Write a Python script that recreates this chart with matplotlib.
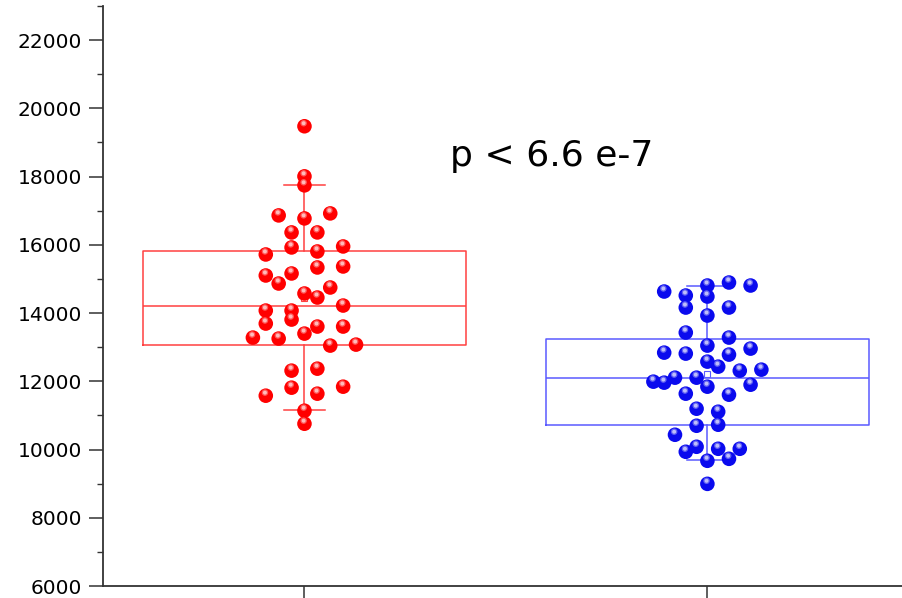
import matplotlib
matplotlib.use("Agg")
import matplotlib.pyplot as plt
from matplotlib.ticker import MultipleLocator
from matplotlib.transforms import offset_copy
import numpy as np

# point values, with the jitter column of each point
red_values = [19475, 18007, 17743, 16862, 16774, 16921, 16363, 16363, 15923, 15805,
              15952, 15717, 15336, 15365, 15101, 15160, 14866, 14749, 14573, 14455,
              14220, 14073, 14073, 13809, 13692, 13604, 13604, 13398, 13281, 13252,
              13046, 13075, 12312, 12370, 11813, 11637, 11842, 11578, 11138, 10756]
red_cols = [0, 0, 0, -2, 0, 2, -1, 1, -1, 1,
            3, -3, 1, 3, -3, -1, -2, 2, 0, 1,
            3, -3, -1, -1, -3, 1, 3, 0, -4, -2,
            2, 4, -1, 1, -1, 1, 3, -3, 0, 0]

blue_values = [14631, 14514, 14807, 14895, 14807, 14484, 14161, 14161, 13927, 13428,
               13281, 13046, 12840, 12811, 12782, 12958, 12576, 12429, 12312, 12341,
               11989, 11960, 12106, 12106, 11842, 11900, 11637, 11607, 11196, 11108,
               10697, 10727, 10433, 10081, 9934, 10022, 10022, 9670, 9728, 8994]
blue_cols = [-4, -2, 0, 2, 4, 0, -2, 2, 0, -2,
             2, 0, -4, -2, 2, 4, 0, 1, 3, 5,
             -5, -4, -3, -1, 0, 4, -2, 2, -1, 1,
             -1, 1, -3, -1, -2, 1, 3, 0, 2, 0]

# box statistics as drawn in the original (red, blue)
box_q1 = [13066, 10706]
box_med = [14200, 12097]
box_q3 = [15805, 13252]
box_lo = [11167, 9699]
box_hi = [17743, 14807]

groups = [
    (red_values, red_cols, 0.032, "#ff0000", "#ff4040"),
    (blue_values, blue_cols, 0.0268, "#0a0aee", "#5a5aff"),
]

fig = plt.figure(figsize=(9.02, 5.98), dpi=100)
ax = fig.add_axes([103 / 902, 12 / 598, 799 / 902, 580 / 598])

for i, (vals, cols, step, col, boxcol) in enumerate(groups):
    pos = i + 1
    stats = [{
        "q1": box_q1[i], "med": box_med[i], "q3": box_q3[i],
        "whislo": box_lo[i], "whishi": box_hi[i],
        "mean": float(np.mean(vals)), "fliers": [],
    }]
    ax.bxp(stats, positions=[pos], widths=0.8, capwidths=0.102,
           showmeans=True, manage_ticks=False,
           boxprops=dict(color=boxcol, lw=1.1),
           medianprops=dict(color=boxcol, lw=1.1),
           whiskerprops=dict(color=boxcol, lw=1.1),
           capprops=dict(color=boxcol, lw=1.1),
           meanprops=dict(marker="s", markersize=5, markerfacecolor="white",
                          markeredgecolor=boxcol, markeredgewidth=0.8),
           zorder=1)

    xs = pos + np.array(cols) * step
    # ball look: body plus a soft white highlight
    ax.scatter(xs, vals, s=110, color=col, edgecolors="none", zorder=3)
    shift = offset_copy(ax.transData, fig=fig, x=-0.6, y=2.2, units="points")
    ax.scatter(xs, vals, s=22, color="white", alpha=0.35, edgecolors="none",
               transform=shift, zorder=4)
    ax.scatter(xs, vals, s=8, color="white", alpha=0.6, edgecolors="none",
               transform=shift, zorder=4)

ax.text(1.613, 18300, "p < 6.6 e-7", fontsize=26, ha="center", va="baseline",
        family="DejaVu Sans")

ax.set_xlim(0.5, 2.483)
ax.set_ylim(6000, 23000)
ax.set_xticks([1, 2])
ax.set_xticklabels([])
ax.yaxis.set_major_locator(MultipleLocator(2000))
ax.yaxis.set_minor_locator(MultipleLocator(1000))
ax.tick_params(axis="y", which="major", direction="out", length=10, width=1.1,
               pad=5, labelsize=14.5, colors="#333333", labelcolor="black")
ax.tick_params(axis="y", which="minor", direction="out", length=4, width=1.0,
               colors="#333333")
ax.tick_params(axis="x", which="major", direction="out", length=12, width=1.1,
               colors="#333333")

for side in ["top", "right"]:
    ax.spines[side].set_visible(False)
for side in ["left", "bottom"]:
    ax.spines[side].set_linewidth(1.3)
    ax.spines[side].set_color("#333333")

fig.savefig("out.png", dpi=100)
